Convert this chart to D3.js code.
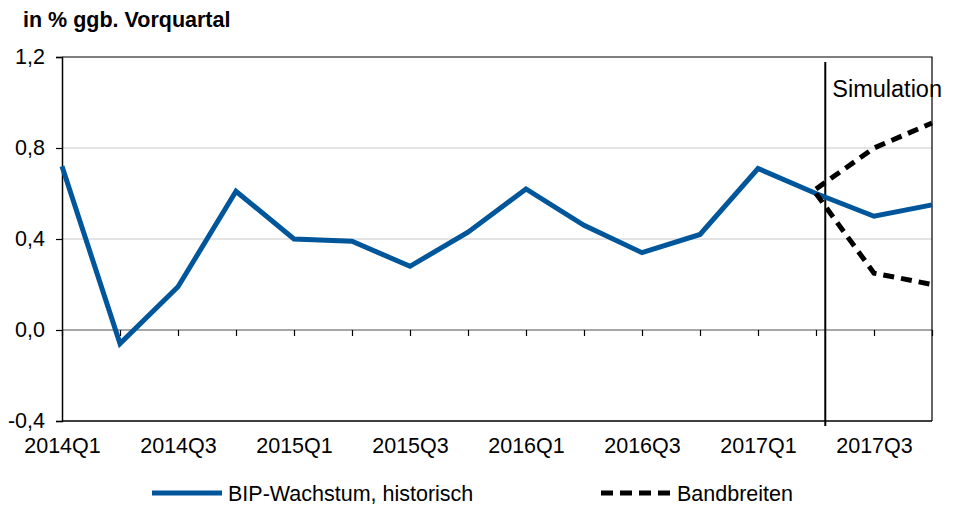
<!DOCTYPE html>
<html><head><meta charset="utf-8">
<script src="https://cdn.jsdelivr.net/npm/d3@7"></script>
<style>body{margin:0;background:#fff}svg{display:block}text{font-family:"Liberation Sans",Arial,sans-serif}</style>
</head><body>
<svg id="c" width="954" height="506"></svg>
<script>
const quarters = ["2014Q1","2014Q2","2014Q3","2014Q4","2015Q1","2015Q2","2015Q3","2015Q4","2016Q1","2016Q2","2016Q3","2016Q4","2017Q1","2017Q2","2017Q3","2017Q4"];
const bipValues = [0.72,-0.06,0.19,0.61,0.40,0.39,0.28,0.43,0.62,0.46,0.34,0.42,0.71,0.60,0.50,0.55];
const bandQuarters = ["2017Q2","2017Q3","2017Q4"];
const bandUpper = [0.62,0.80,0.91];
const bandLower = [0.60,0.25,0.20];
const yTicks = [-0.4,0,0.4,0.8,1.2];
const xLabelTicks = ["2014Q1","2014Q3","2015Q1","2015Q3","2016Q1","2016Q3","2017Q1","2017Q3"];
const simStart = "2017Q2";
const title = "in % ggb. Vorquartal";
const simLabel = "Simulation";
const legendLabels = ["BIP-Wachstum, historisch","Bandbreiten"];

const blue = "#00569b";
const svg = d3.select("#c");
const L=62,R=932,T=57,B=421;
const x = d3.scalePoint().domain(quarters).range([L,R]);
const y = d3.scaleLinear().domain([-0.4,1.2]).range([B,T]);
const fmt = v => d3.format(".1f")(v).replace(".",",").replace("\u2212","-");

svg.append("text").attr("x",23).attr("y",27).attr("font-weight","bold").attr("font-size",21.5).text(title);

// gridlines
svg.append("g").selectAll("line").data([0.4,0.8]).join("line")
  .attr("x1",L).attr("x2",R).attr("y1",d=>y(d)).attr("y2",d=>y(d))
  .attr("stroke","#c8c8c8").attr("stroke-width",1);
svg.append("line").attr("x1",L).attr("x2",R).attr("y1",y(0)).attr("y2",y(0)).attr("stroke","#888").attr("stroke-width",1.5);
// box top/right/bottom
svg.append("path").attr("d",`M${L},${y(1.2)}H${R}V${y(-0.4)}`).attr("fill","none").attr("stroke","#000").attr("stroke-width",1.2);
svg.append("line").attr("x1",L).attr("x2",R).attr("y1",y(-0.4)).attr("y2",y(-0.4)).attr("stroke","#000").attr("stroke-width",1.5);

// y axis
const ya = svg.append("g").attr("transform",`translate(${L},0)`)
  .call(d3.axisLeft(y).tickValues(yTicks).tickFormat(fmt).tickSize(6).tickPadding(11));
ya.select(".domain").attr("stroke","#000").attr("stroke-width",1.5);
ya.selectAll(".tick line").attr("stroke","#000").attr("stroke-width",1.2);
ya.selectAll("text").attr("font-size",21.5).attr("fill","#000").attr("font-family","Liberation Sans, Arial, sans-serif");

// x ticks on zero line
const xt = svg.append("g").attr("transform",`translate(0,${y(0)})`)
  .call(d3.axisBottom(x).tickSize(6).tickFormat(""));
xt.select(".domain").remove();
xt.selectAll(".tick line").attr("stroke","#000").attr("stroke-width",1.2);

// x labels at bottom
const xl = svg.append("g").attr("transform",`translate(0,${B})`)
  .call(d3.axisBottom(x).tickValues(xLabelTicks).tickSize(0).tickPadding(17));
xl.select(".domain").remove();
xl.selectAll("text").attr("font-size",21.5).attr("fill","#000").attr("font-family","Liberation Sans, Arial, sans-serif");

// simulation line
const sx = x(simStart) + x.step()*0.16;
svg.append("line").attr("x1",sx).attr("x2",sx).attr("y1",y(1.2)+5).attr("y2",B+5).attr("stroke","#000").attr("stroke-width",2);
svg.append("text").attr("x",sx+7).attr("y",97).attr("font-size",23.5).text(simLabel);

// lines
const line = d3.line().x(d=>x(d[0])).y(d=>y(d[1]));
svg.append("path").datum(quarters.map((q,i)=>[q,bipValues[i]])).attr("d",line)
  .attr("fill","none").attr("stroke",blue).attr("stroke-width",5).attr("stroke-linejoin","miter");
[bandUpper,bandLower].forEach(arr=>{
  svg.append("path").datum(bandQuarters.map((q,i)=>[q,arr[i]])).attr("d",line)
    .attr("fill","none").attr("stroke","#000").attr("stroke-width",5).attr("stroke-dasharray","11,7");
});

// legend
const lg = svg.append("g");
lg.append("line").attr("x1",152).attr("x2",222).attr("y1",493).attr("y2",493).attr("stroke",blue).attr("stroke-width",5);
lg.append("text").attr("x",228).attr("y",501).attr("font-size",21.5).text(legendLabels[0]);
lg.append("line").attr("x1",601).attr("x2",672).attr("y1",493).attr("y2",493).attr("stroke","#000").attr("stroke-width",5).attr("stroke-dasharray","12,7");
lg.append("text").attr("x",677).attr("y",501).attr("font-size",21.5).text(legendLabels[1]);
</script>
</body></html>
